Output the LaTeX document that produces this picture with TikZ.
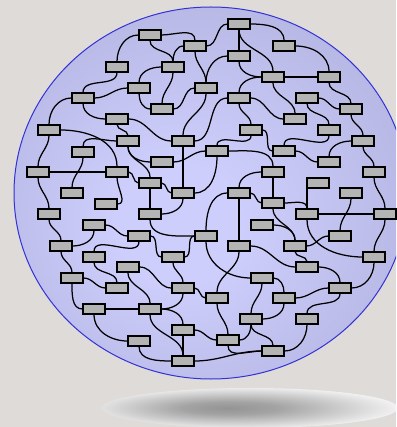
\documentclass[tikz,border=0pt]{standalone}
\definecolor{bgc}{RGB}{222,219,216}
\definecolor{ballin}{RGB}{206,206,252}
\definecolor{ballout}{RGB}{160,160,205}
\definecolor{ballrim}{RGB}{50,50,215}
\definecolor{boxfill}{RGB}{180,180,180}
\pgfdeclareradialshading{ballshade}{\pgfpoint{-5bp}{-5bp}}{color(0bp)=(ballin); color(8bp)=(ballin); color(50bp)=(ballout)}
\pgfdeclareradialshading{shadowshade}{\pgfpoint{-4bp}{0bp}}{color(0bp)=(black!42); color(8bp)=(black!36); color(30bp)=(white); color(50bp)=(white)}
\pgfdeclarelayer{bgl}
\pgfdeclarelayer{edgel}
\pgfsetlayers{bgl,edgel,main}
\begin{document}
\begin{tikzpicture}[x=1pt,y=1pt,
  box/.style={rectangle, draw=black, fill=boxfill, line width=1.6pt, minimum width=21.5pt, minimum height=9.5pt, inner sep=0pt},
  link/.style={line width=1.25pt, black}]
\useasboundingbox (0,0) rectangle (396,-427);
\begin{pgfonlayer}{bgl}
\fill[bgc] (0,0) rectangle (396,-427);
\clip (0,0) rectangle (396,-427);
\shade[shading=shadowshade] (250,-408) ellipse [x radius=148, y radius=20];
\shadedraw[shading=ballshade, draw=ballrim, line width=1pt] (211,-193) ellipse [x radius=197, y radius=186];
\end{pgfonlayer}
\foreach \n/\x/\y in {1/239/24, 2/150/35, 3/195/46, 4/284/46, 5/239/56, 6/117/67, 7/173/67, 8/273/77, 9/329/77, 10/139/88,
 11/206/88, 12/83/98, 13/239/98, 14/307/98, 15/162/109, 16/351/109, 17/117/119, 18/295/119, 19/49/130, 20/251/130,
 21/329/130, 22/128/141, 23/183/141, 24/363/141, 25/83/152, 26/217/151, 27/284/151, 28/162/162, 29/329/162, 30/38/172,
 31/117/172, 32/273/172, 33/374/172, 34/150/183, 35/318/183, 36/72/193, 37/183/193, 38/239/193, 39/351/193, 40/106/204,
 41/273/203, 42/49/214, 43/150/214, 44/307/214, 45/385/214, 46/94/225, 47/262/225, 48/139/236, 49/206/236, 50/340/236,
 51/61/246, 52/239/246, 53/295/246, 54/94/257, 55/173/257, 56/374/257, 57/128/267, 58/307/267, 59/72/278, 60/262/278,
 61/117/288, 62/183/288, 63/340/288, 64/94/309, 65/150/309, 66/217/298, 67/284/298, 68/183/330, 69/251/319, 70/307/319,
 71/139/341, 72/228/340, 73/273/351, 74/183/361}
  \node[box] (n\n) at (\x,-\y) {};
\begin{pgfonlayer}{edgel}
\foreach \a/\b/\o/\i in {2/6/180/90, 6/12/270/90, 10/12/180/0, 7/10/180/90, 7/15/270/90, 10/15/270/180, 12/17/270/180,
 12/19/180/90, 2/3/0/90, 2/7/270/90, 3/7/180/90, 3/1/0/180, 3/11/270/90, 1/5/270/90, 1/8/270/90, 1/4/0/90, 5/8/270/180,
 5/11/180/90, 11/15/180/0, 11/23/270/90, 13/23/180/0, 13/20/270/90, 8/13/180/90, 8/18/270/90, 8/9/0/180, 4/9/0/90,
 9/16/270/90, 14/16/0/180, 14/21/270/90, 16/24/270/90, 21/27/270/90, 24/29/180/90, 27/29/0/180, 24/33/270/90,
 33/45/270/90, 26/32/0/90, 20/26/270/90, 26/28/180/0, 26/37/270/0, 23/37/270/90, 17/23/0/180, 22/28/270/180,
 19/30/270/90, 19/31/0/90, 22/25/180/90, 25/36/270/90, 30/31/0/180, 30/42/270/90, 31/34/0/180, 31/40/270/0,
 34/43/270/90, 34/37/0/180, 22/34/270/90, 43/49/270/180, 37/43/270/0, 42/51/270/90, 46/51/270/0, 46/48/0/180,
 48/54/270/90, 48/55/0/180, 54/61/270/90, 51/59/270/90, 59/61/0/180, 59/64/270/180, 64/65/0/180, 64/71/270/180,
 57/65/270/90, 57/62/0/180, 55/62/270/90, 65/68/0/90, 65/74/270/90, 68/74/270/90, 71/74/270/180, 62/65/270/0,
 38/52/270/90, 38/49/180/90, 32/38/180/90, 38/41/0/180, 49/60/270/180, 52/66/270/90, 52/58/0/180, 49/55/180/0,
 41/44/0/90, 44/45/0/180, 39/50/270/90, 44/56/270/180, 45/56/270/90, 50/53/180/0, 47/53/0/90, 41/53/270/90,
 53/58/270/90, 58/63/0/90, 56/63/270/0, 63/67/180/0, 63/70/270/90, 70/73/270/0, 67/69/270/0, 60/67/0/90,
 60/69/270/90, 62/66/0/180, 66/72/270/90, 69/72/270/0, 69/73/270/90, 72/73/270/180, 73/74/180/0, 68/72/0/180,
 32/41/270/90, 20/27/0/180, 13/18/0/180, 17/22/270/90}
  \draw[link] (n\a) to[out=\o,in=\i] (n\b);
\draw[link] (n44.north) -- (n44.north |- n35.south);
\end{pgfonlayer}
\end{tikzpicture}
\end{document}
